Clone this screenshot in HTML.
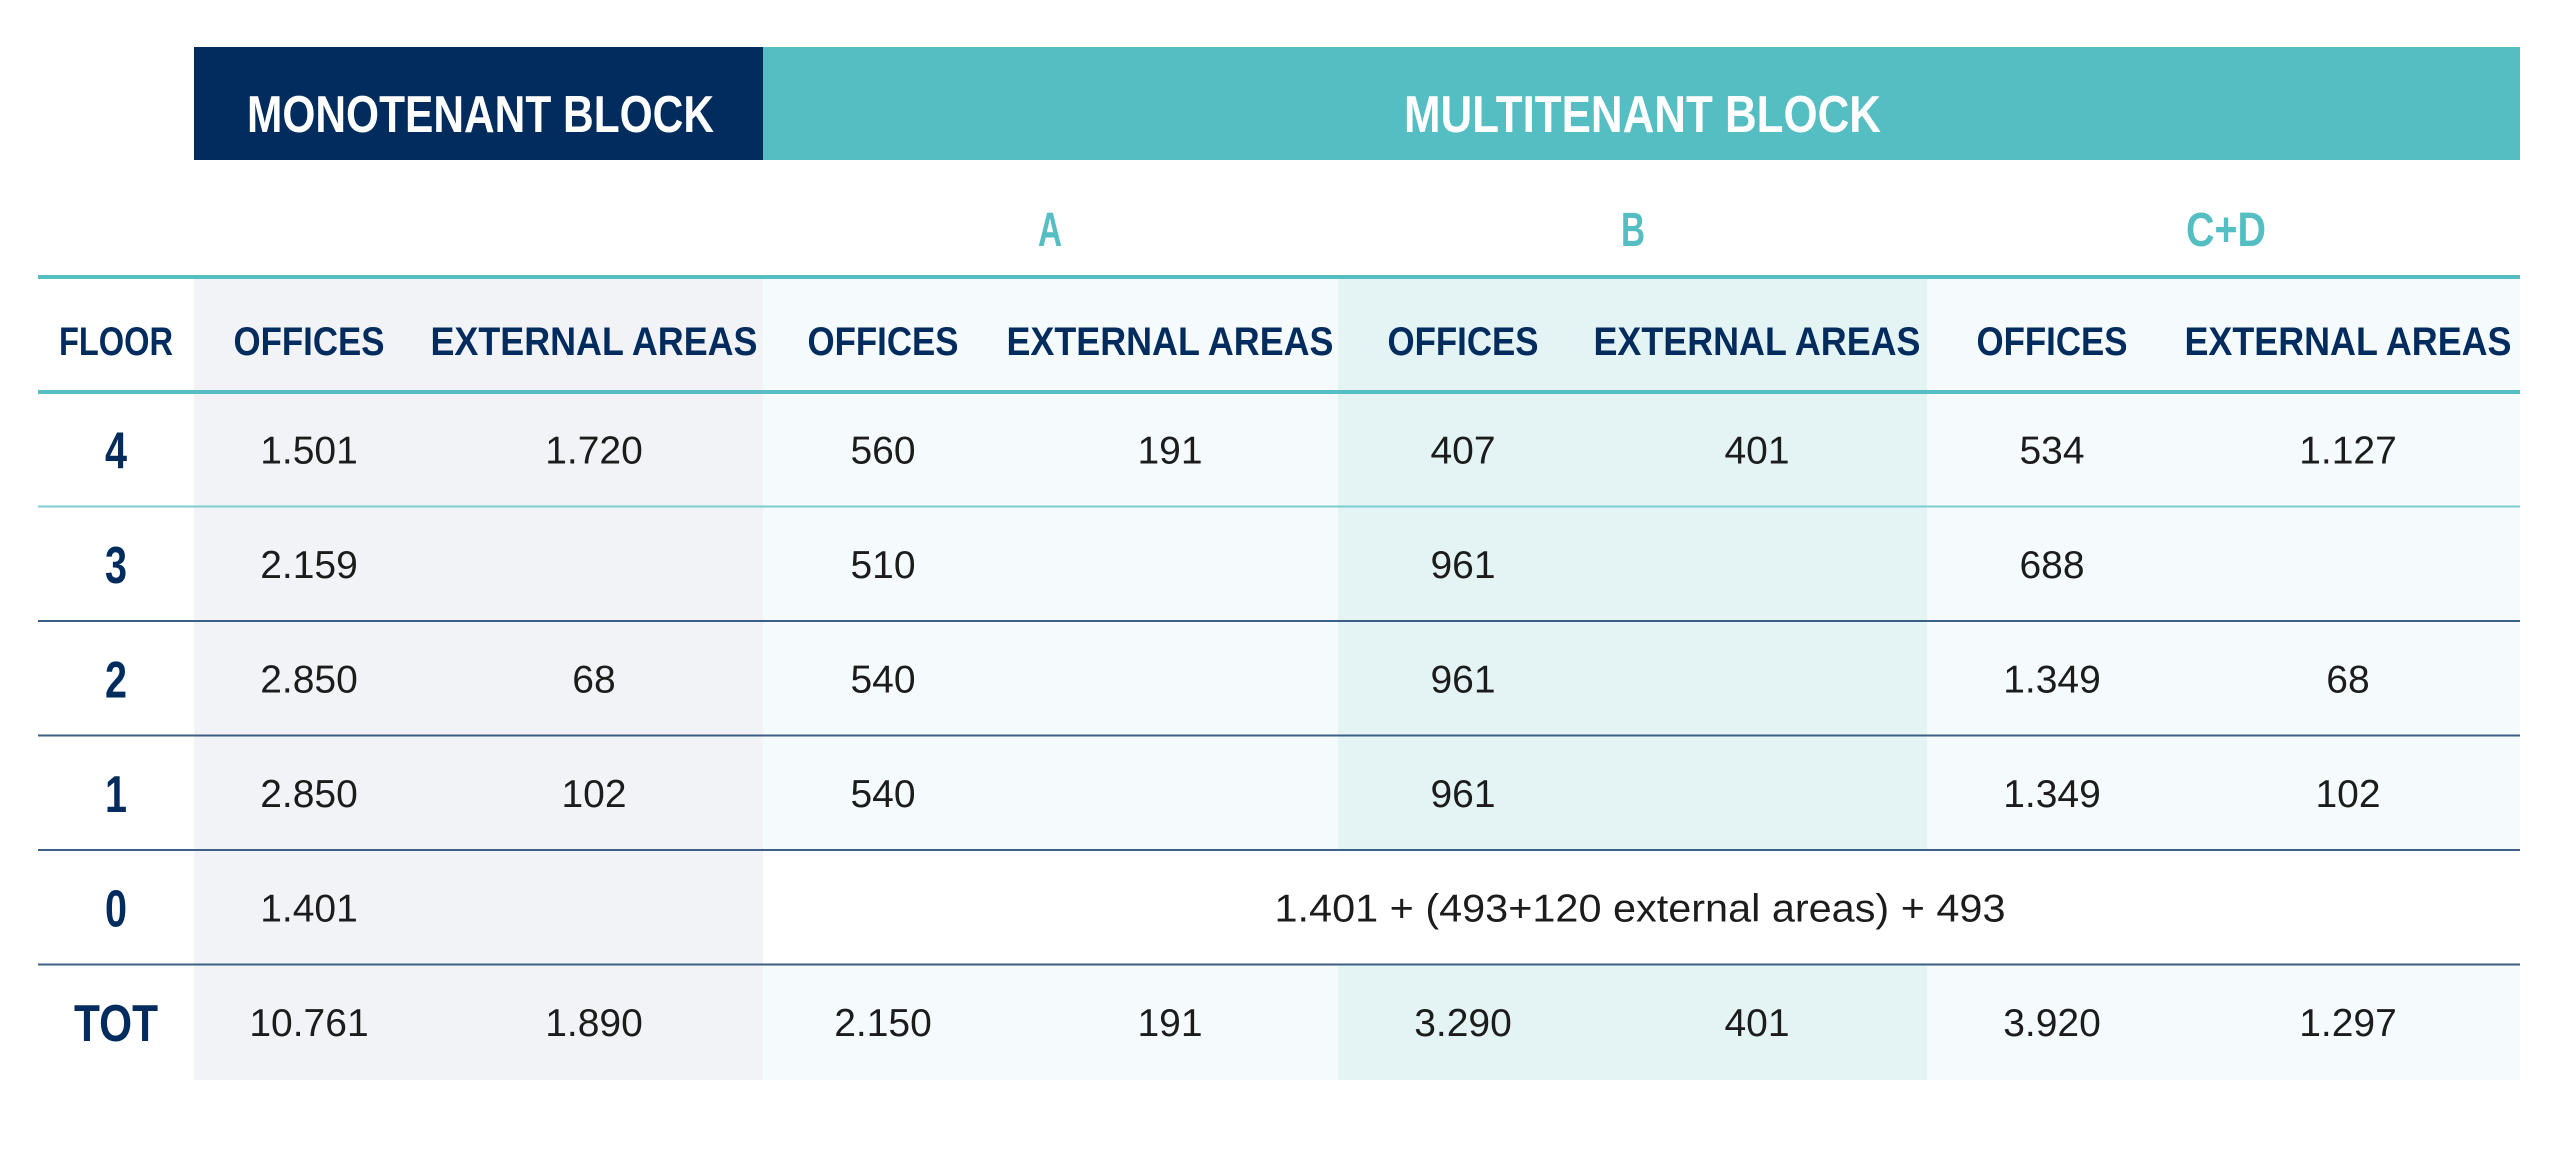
<!DOCTYPE html>
<html><head><meta charset="utf-8">
<style>
html,body{margin:0;padding:0;background:#fff;width:2560px;height:1152px;overflow:hidden}
svg{display:block}
.hd{font-family:"Liberation Sans",sans-serif;font-weight:bold}
.num{font-family:"Liberation Sans",sans-serif;font-weight:normal;fill:#1c1c1c}
</style></head>
<body>
<svg id="tbl" width="2560" height="1152" viewBox="0 0 2560 1152">
  <!-- column backgrounds -->
  <rect x="194" y="277" width="569" height="803" fill="#f2f3f6"/>
  <rect x="763" y="277" width="575" height="572" fill="#f5fbfc"/>
  <rect x="1338" y="277" width="589" height="572" fill="#e4f4f5"/>
  <rect x="1927" y="277" width="593" height="572" fill="#f5fbfc"/>
  <rect x="763" y="965" width="575" height="115" fill="#f5fbfc"/>
  <rect x="1338" y="965" width="589" height="115" fill="#e4f4f5"/>
  <rect x="1927" y="965" width="593" height="115" fill="#f5fbfc"/>

  <!-- top header bar -->
  <rect x="194" y="47" width="569" height="113" fill="#022b5e"/>
  <rect x="763" y="47" width="1757" height="113" fill="#54bec3"/>
  <text class="hd" x="247" y="132" font-size="52" fill="#fff" textLength="467" lengthAdjust="spacingAndGlyphs">MONOTENANT BLOCK</text>
  <text class="hd" x="1404" y="132" font-size="52" fill="#fff" textLength="477" lengthAdjust="spacingAndGlyphs">MULTITENANT BLOCK</text>

  <!-- sub-block labels -->
  <text class="hd" x="1050" y="246" font-size="48" fill="#54bec3" text-anchor="middle" textLength="24" lengthAdjust="spacingAndGlyphs">A</text>
  <text class="hd" x="1633" y="246" font-size="48" fill="#54bec3" text-anchor="middle" textLength="24" lengthAdjust="spacingAndGlyphs">B</text>
  <text class="hd" x="2186" y="246" font-size="48" fill="#54bec3" textLength="80" lengthAdjust="spacingAndGlyphs">C+D</text>

  <!-- column header lines -->
  <rect x="38" y="275" width="2482" height="4" fill="#54bec3"/>
  <rect x="38" y="390" width="2482" height="4" fill="#54bec3"/>

  <g id="colheads"></g>
  <g id="rows"></g>
</svg>
<script>
const floors = ["4","3","2","1","0","TOT"];
const monoOffices = ["1.501","2.159","2.850","2.850","1.401","10.761"];
const monoExternal = ["1.720","","68","102","","1.890"];
const aOffices = ["560","510","540","540","","2.150"];
const aExternal = ["191","","","","","191"];
const bOffices = ["407","961","961","961","","3.290"];
const bExternal = ["401","","","","","401"];
const cdOffices = ["534","688","1.349","1.349","","3.920"];
const cdExternal = ["1.127","","68","102","","1.297"];
const groundNote = "1.401 + (493+120 external areas) + 493";
const columnHeaders = ["FLOOR","OFFICES","EXTERNAL AREAS","OFFICES","EXTERNAL AREAS","OFFICES","EXTERNAL AREAS","OFFICES","EXTERNAL AREAS"];

const NS = "http://www.w3.org/2000/svg";
const colCenters = [116, 309, 594, 883, 1170, 1463, 1757, 2052, 2348];
const colNames = ["floor","mono-offices","mono-external","a-offices","a-external","b-offices","b-external","cd-offices","cd-external"];
const rowTop = 392, rowH = 114.5;
function rowY(i){ return rowTop + i*rowH; }

const ch = document.getElementById('colheads');
columnHeaders.forEach((h,i)=>{
  const t = document.createElementNS(NS,'text');
  t.setAttribute('class','hd');
  t.setAttribute('x', colCenters[i]);
  t.setAttribute('y', 355);
  t.setAttribute('font-size','40');
  t.setAttribute('fill','#022b5e');
  t.setAttribute('text-anchor','middle');
  const len = h==="FLOOR"?114:(h==="OFFICES"?151:327);
  t.setAttribute('textLength', len);
  t.setAttribute('lengthAdjust','spacingAndGlyphs');
  t.textContent = h;
  
  
  ch.appendChild(t);
});

const rows = document.getElementById('rows');
const lineColors = ["#7ccdd1","#3c5f86","#3c5f86","#3c5f86","#3c5f86"];
const series = [monoOffices, monoExternal, aOffices, aExternal, bOffices, bExternal, cdOffices, cdExternal];
floors.forEach((f,i)=>{
  const y0 = rowY(i), cy = y0 + rowH/2;
  const g = document.createElementNS(NS,'g');
  
  
  const ft = document.createElementNS(NS,'text');
  ft.setAttribute('class','hd');
  ft.setAttribute('x', colCenters[0]);
  ft.setAttribute('y', cy + 19);
  ft.setAttribute('font-size','52');
  ft.setAttribute('fill','#022b5e');
  ft.setAttribute('text-anchor','middle');
  if (f==="TOT"){ ft.setAttribute('textLength', 84); ft.setAttribute('lengthAdjust','spacingAndGlyphs'); }
  else { ft.setAttribute('textLength', 22); ft.setAttribute('lengthAdjust','spacingAndGlyphs'); }
  ft.textContent = f;
  
  
  g.appendChild(ft);
  series.forEach((s,j)=>{
    if (!s[i]) return;
    const t = document.createElementNS(NS,'text');
    t.setAttribute('class','num');
    t.setAttribute('x', colCenters[j+1]);
    t.setAttribute('y', cy + 14);
    t.setAttribute('font-size','39');
    t.setAttribute('text-anchor','middle');
    t.textContent = s[i];
    
    
    g.appendChild(t);
  });
  if (f==="0"){
    const t = document.createElementNS(NS,'text');
    t.setAttribute('class','num');
    t.setAttribute('x', 1640);
    t.setAttribute('y', cy + 14);
    t.setAttribute('font-size','39');
    t.setAttribute('text-anchor','middle');
    t.setAttribute('textLength', 731);
    t.setAttribute('lengthAdjust','spacingAndGlyphs');
    t.textContent = groundNote;
    
    
    g.appendChild(t);
  }
  if (i < lineColors.length){
    const r = document.createElementNS(NS,'rect');
    r.setAttribute('x', 38);
    r.setAttribute('y', y0 + rowH - 1);
    r.setAttribute('width', 2482);
    r.setAttribute('height', 2);
    r.setAttribute('fill', lineColors[i]);
    
    
    g.appendChild(r);
  }
  rows.appendChild(g);
});
</script>
</body></html>
